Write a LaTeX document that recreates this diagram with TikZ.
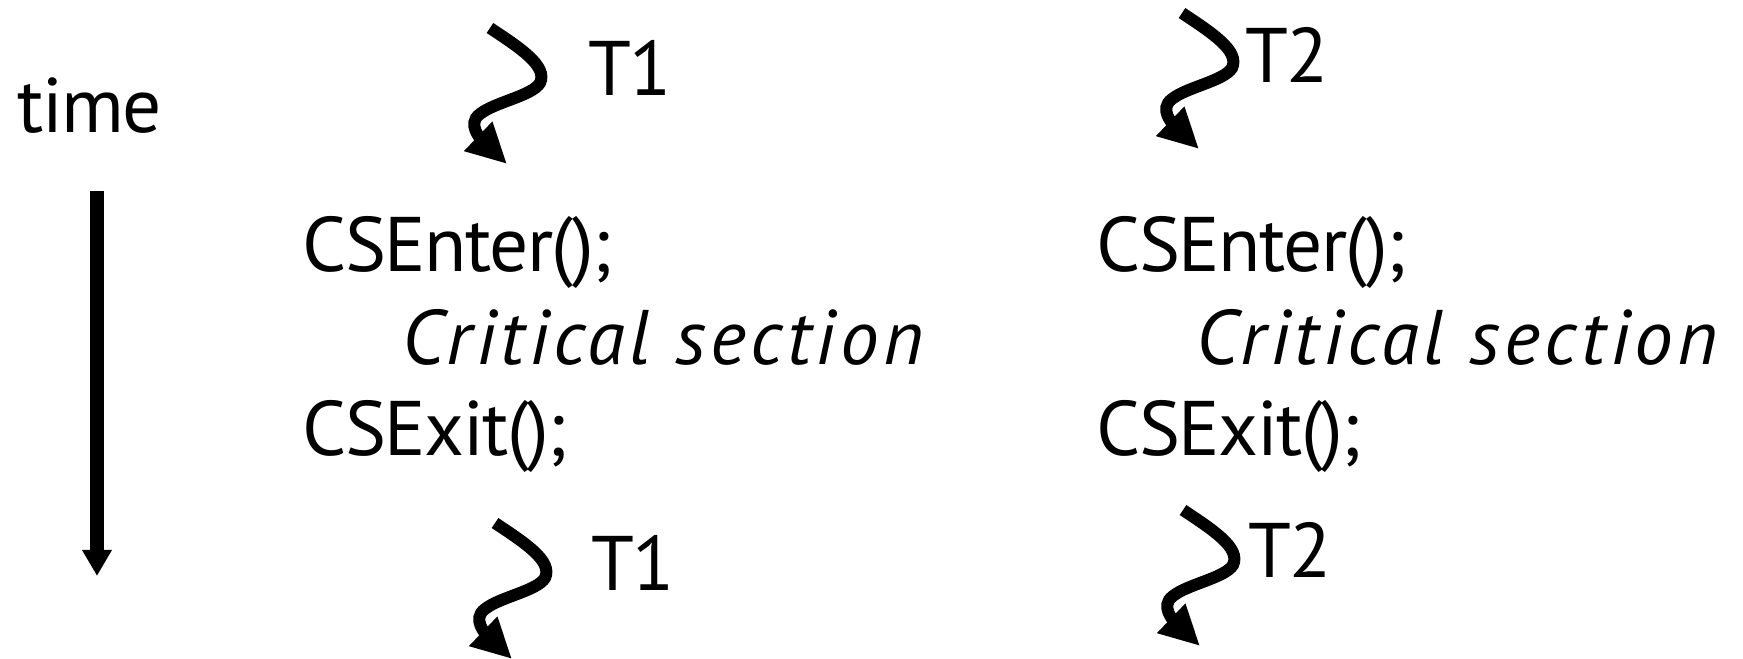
\documentclass[tikz,border=0pt]{standalone}
\usepackage{fontspec}
\setmainfont{PT Sans}
\usetikzlibrary{arrows.meta}

\tikzset{
  code/.style={font=\fontsize{22}{26}\selectfont\addfontfeature{LetterSpace=-2}, anchor=base west, inner sep=0pt},
  comment/.style={code, font=\fontsize{22}{26}\selectfont\itshape\addfontfeature{LetterSpace=5.5}},
  thread/.style={line width=1.2mm, -{Triangle[length=4mm,width=3.8mm]}},
  timeline/.style={line width=1.3mm, -{Triangle[length=2.6mm,width=2.8mm]}}
}

\begin{document}
\begin{tikzpicture}[x=0.01cm,y=-0.01cm]
    \useasboundingbox (0,0) rectangle (1743,659);

    % Time axis
    \node[code, anchor=base] (time) at (90,133) {time};
    \coordinate (ttop) at (97,191);
    \coordinate (tbot) at (97,576);
    \draw[timeline] (ttop) -- (tbot);

    % Thread T1
    \node[code] (enter1) at (302,272) {CSEnter();};
    \node[comment] (crit1) at (402,365) {Critical section};
    \node[code] (exit1) at (302,456) {CSExit();};

    % Thread T2
    \node[code] (enter2) at (1096,272) {CSEnter();};
    \node[comment] (crit2) at (1196,365) {Critical section};
    \node[code] (exit2) at (1096,456) {CSExit();};

    % Context switches
    \foreach \sx/\sy/\lx/\ly/\t [count=\i] in {490/28/630/68/T1, 1182/13/1287/55/T2, 495/523/633/563/T1, 1183/510/1290/550/T2} {
        \draw[thread, shift={(\sx,\sy)}] (0,0) .. controls (30,20) and (58,38) .. (50,55)
            .. controls (42,68) and (5,74) .. (-10,86)
            .. controls (-24,96) and (-8,112) .. (17,136);
        \node[code, anchor=center] (sw\i) at (\lx,\ly) {\t};
    }
\end{tikzpicture}
\end{document}
